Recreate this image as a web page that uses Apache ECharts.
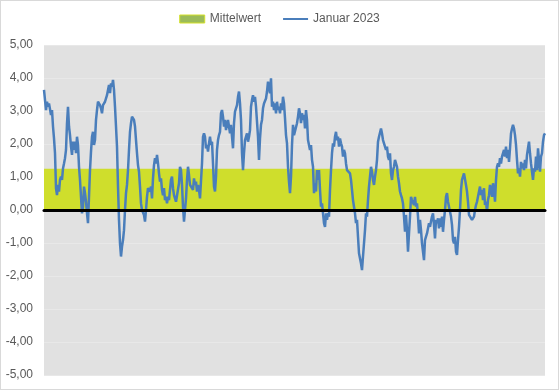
<!DOCTYPE html>
<html>
<head>
<meta charset="utf-8">
<script src="https://cdn.jsdelivr.net/npm/echarts@6/dist/echarts.min.js"></script>
<style>
html,body{margin:0;padding:0;background:#fff;}
#chart{width:559px;height:390px;box-sizing:border-box;border:1px solid #d9d9d9;}
</style>
</head>
<body>
<div id="chart"></div>
<script>
const seriesNames = ['Mittelwert', 'Januar 2023'];
const yTicks = [-5, -4, -3, -2, -1, 0, 1, 2, 3, 4, 5];
const meanValue = 1.25;
const januar2023Part1 = [
3.64,3.59,3.03,3.28,3.13,3.23,3.23,2.88,3.03,2.53,2.17,1.72,0.66,0.45,0.76,0.56,0.91,1.01,0.91,1.26,
1.41,1.57,1.82,2.63,3.13,2.53,2.27,1.92,1.67,2.07,1.82,2.07,1.72,2.22,1.97,1.31,0.91,0.40,-0.10,0.10,
0.71,0.51,0.25,-0.10,-0.40,0.40,1.21,1.77,2.22,2.37,1.97,2.12,2.73,3.03,3.28,3.23,3.18,3.08,2.93,3.18,
3.13,3.28,3.38,3.48,3.64,3.79,3.54,3.84,3.74,3.94,3.64,3.13,2.53,1.92,0.71,-0.30,-1.01,-1.41,-1.11,-0.91,
-0.61,0.00,0.51,0.76,1.21,1.82,2.37,2.63,2.83,2.88,2.73,2.53,2.12,1.72,1.36,1.16,0.71,0.20,0.00,-0.05,
-0.15,-0.35,0.00,0.40,0.66,0.61,0.56,0.71,0.35,0.96,1.36,1.57,1.41,1.67,1.41,1.11,0.86,0.96,0.61,0.45,
0.66,0.30,0.40,0.20,0.40,0.30,0.61,0.91,1.01,0.66,0.45,0.45,0.25,0.30,0.20,0.81,1.31,1.21,0.76,0.10,
-0.35,0.00,0.35,0.91,1.31,1.06,0.76,0.71,0.76,0.61,0.96,0.76,0.86,0.56,0.76,0.61,0.35,0.40,1.41,2.22,
2.32,2.22,1.87,1.97,1.77,2.02,2.22,1.97,2.07,1.41,0.71,0.56,1.01,1.82,2.12,2.27,2.37,2.93,3.03,2.83,
2.53,2.73,2.42,2.58,2.73,2.53,2.32,2.58,2.22,1.87,2.63,2.98,3.08,3.18,3.43,3.59,3.23,2.73,1.72,1.21,
1.72,2.12,2.07,2.32,2.07,2.22,2.42,3.13,3.33,3.48,3.28,3.43,3.13,2.68,2.22,1.52,2.17,2.58,2.73,3.08,
3.23,3.28,3.38,3.59,3.89,3.94,3.54,3.99,3.13,3.28,3.03,3.23,2.93,3.28,3.03,3.13,2.93,3.23,3.03,3.43,
3.23,2.78,2.27,2.02,1.31,0.86,0.51,1.01,1.97,2.58,2.27
];
const januar2023Part2 = [
2.22,2.32,2.63,2.83,3.08,2.93,2.63,2.93,2.73,2.88,2.47,3.03,2.73,2.12,2.17,1.82,1.97,1.52,1.31,0.51,
0.81,0.56,1.21,0.91,1.21,0.61,0.10,0.20,-0.10,-0.40,-0.51,-0.10,-0.30,-0.10,-0.20,0.61,1.21,1.72,2.02,1.92,
2.22,2.37,2.12,2.22,1.92,2.17,2.02,1.92,1.62,1.82,1.72,1.41,1.21,1.16,1.21,1.11,0.91,0.61,0.30,0.10,
-0.10,-0.40,-0.30,-0.81,-1.31,-1.26,-1.62,-1.82,-1.41,-1.01,-0.61,-0.10,-0.20,0.30,0.71,1.01,1.31,1.16,0.91,0.76,
1.01,1.21,1.52,2.07,2.22,2.27,2.47,2.32,2.12,2.02,2.07,1.82,1.92,1.62,1.52,1.72,1.11,0.91,1.21,1.31,
1.52,1.46,1.31,1.01,0.81,0.56,0.45,0.35,0.20,-0.20,-0.66,-0.15,-0.61,-1.26,-0.71,-0.20,0.40,0.30,0.35,0.15,
0.40,0.10,0.20,-0.20,-0.71,-0.30,-0.61,-1.01,-1.06,-1.52,-0.91,-0.81,-0.71,-0.76,-0.40,-0.51,-0.35,-0.20,-0.10,-0.45,
-0.86,-0.30,-0.40,-0.25,-0.56,-0.25,-0.51,-0.20,-0.66,-0.30,0.00,0.40,0.51,0.25,0.10,-0.05,-0.20,-0.45,-0.91,-1.01,
-0.81,-1.26,-1.36,-0.91,-0.51,0.00,0.61,0.91,1.01,1.11,1.06,0.76,0.56,0.25,-0.15,-0.20,-0.10,-0.30,-0.35,-0.20,
0.00,0.15,0.25,0.25,0.56,0.71,0.45,0.61,0.30,0.66,0.15,0.25,-0.05,0.30,0.45,0.76,0.61,0.40,0.81,0.61,
0.25,0.91,1.31,1.41,1.31,1.57,1.41,1.62,1.57,1.82,1.62,1.92,1.57,1.82,1.46,1.87,2.32,2.47,2.58,2.47,
2.27,1.97,1.52,1.11,1.26,1.01,1.46,1.26,1.41,1.21,1.52,1.26,1.67,1.87,2.07,1.72,1.41,1.16,0.91,1.26,
1.16,1.62,1.21,1.87,1.52,1.16,1.62,1.72,2.07,2.27,2.32
];
const januar2023 = januar2023Part1.concat(januar2023Part2);
const categories = januar2023.map((_, i) => String(i + 1));
const meanSeries = categories.map(() => meanValue);

const chart = echarts.init(document.getElementById('chart'), null, {renderer: 'canvas'});
const fontFamily = '"Liberation Sans", Arial, sans-serif';
chart.setOption({
  animation: false,
  backgroundColor: '#ffffff',
  legend: {
    top: 7,
    left: 'center',
    itemGap: 22,
    itemWidth: 25,
    itemHeight: 8,
    textStyle: {color: '#595959', fontSize: 12, fontFamily: fontFamily},
    data: [
      {name: seriesNames[0], icon: 'rect', itemStyle: {color: '#9bbb59', borderColor: '#d4e02a', borderWidth: 1}},
      {name: seriesNames[1], icon: 'path://M0,0 L25,0 L25,2 L0,2 Z', itemStyle: {color: '#4a7ebb'}}
    ]
  },
  grid: {
    left: 43, right: 13, top: 44, bottom: 14,
    show: true, backgroundColor: '#e1e1e1', borderWidth: 0
  },
  xAxis: {
    type: 'category',
    data: categories,
    boundaryGap: false,
    axisLine: {show: true, onZero: true, lineStyle: {color: '#000000', width: 3}},
    axisTick: {show: false},
    axisLabel: {show: false},
    splitLine: {show: false},
    z: 10
  },
  yAxis: {
    type: 'value',
    min: yTicks[0],
    max: yTicks[yTicks.length - 1],
    interval: 1,
    axisLine: {show: false},
    axisTick: {show: false},
    splitLine: {show: true, lineStyle: {color: '#e8e8e8', width: 1}},
    axisLabel: {
      color: '#595959', fontSize: 12, fontFamily: fontFamily, margin: 11,
      formatter: v => v.toFixed(2).replace('.', ',')
    }
  },
  series: [
    {
      name: seriesNames[0],
      type: 'line',
      data: meanSeries,
      symbol: 'none',
      lineStyle: {width: 0, color: '#cfde2c'},
      itemStyle: {color: '#9bbb59'},
      areaStyle: {color: '#cfde2c', opacity: 1, origin: 0},
      z: 1
    },
    {
      name: seriesNames[1],
      type: 'line',
      data: januar2023,
      symbol: 'none',
      lineStyle: {width: 2.5, color: '#4a7ebb'},
      itemStyle: {color: '#4a7ebb'},
      z: 3
    }
  ]
});
</script>
</body>
</html>
